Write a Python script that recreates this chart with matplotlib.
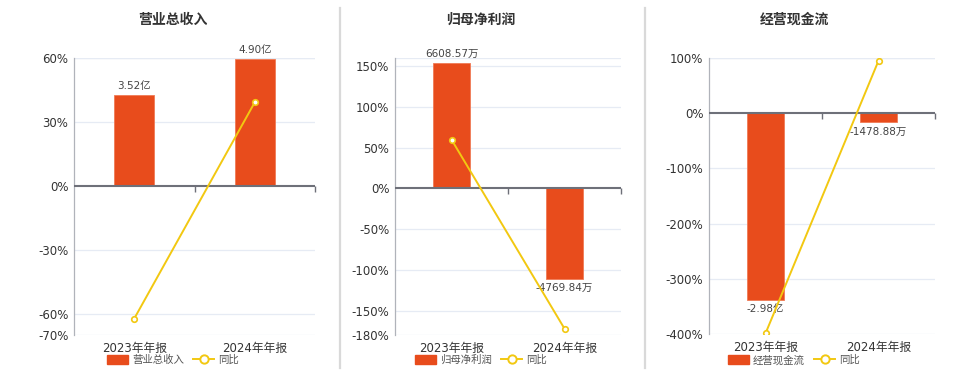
import matplotlib

matplotlib.use('Agg')
import matplotlib.pyplot as plt
import matplotlib.patches as mpatches
from matplotlib.lines import Line2D

plt.rcParams['font.family'] = ['DejaVu Sans', 'Noto Sans CJK SC']

BAR_COLOR = "#E84C1C"
LINE_COLOR = "#F2C811"
TEXT_COLOR = "#333333"
GRID_COLOR = "#E6EBF4"
ZERO_COLOR = "#6E7079"

categories = ["2023年年报", "2024年年报"]

# 营业总收入 (亿)
revenue = [3.52, 4.90]
revenue_labels = ["3.52亿", "4.90亿"]
revenue_yoy = [-62.3, 39.2]

# 归母净利润 (万)
profit = [6608.57, -4769.84]
profit_labels = ["6608.57万", "-4769.84万"]
profit_yoy = [59.8, -172.2]

# 经营现金流 (万)
cashflow = [-29800.0, -1478.88]
cashflow_labels = ["-2.98亿", "-1478.88万"]
cashflow_yoy = [-399.0, 95.0]

panels = [
    dict(title="营业总收入", name="营业总收入", bars=revenue, labels=revenue_labels, yoy=revenue_yoy,
         box=(74, 315, 58, 335), ylim=(-70, 60), ticks=[60, 30, 0, -30, -60, -70],
         pct_per_unit=12.14, center=173),
    dict(title="归母净利润", name="归母净利润", bars=profit, labels=profit_labels, yoy=profit_yoy,
         box=(395, 621, 58, 335), ylim=(-180, 160), ticks=[150, 100, 50, 0, -50, -100, -150, -180],
         pct_per_unit=0.02329, center=481),
    dict(title="经营现金流", name="经营现金流", bars=cashflow, labels=cashflow_labels, yoy=cashflow_yoy,
         box=(709, 935, 58, 334), ylim=(-400, 100), ticks=[100, 0, -100, -200, -300, -400],
         pct_per_unit=0.011376, center=794),
]

W, H = 960, 372
fig = plt.figure(figsize=(W / 100, H / 100), dpi=100)

# panel separators
for sx in (340, 645):
    fig.add_artist(Line2D([sx / W, sx / W], [4 / H, 364 / H], color="#D9D9D9", linewidth=1.6))


def draw_panel(p):
    left, right, top, bottom = p["box"]
    ax = fig.add_axes([left / W, 1 - bottom / H, (right - left) / W, (bottom - top) / H])
    axb = ax.twinx()
    ax.set_zorder(axb.get_zorder() + 1)
    ax.patch.set_visible(False)

    x = list(range(len(categories)))
    k = p["pct_per_unit"]
    lo, hi = p["ylim"]

    # bars on hidden secondary scale, grid drawn there too so it stays behind the bars
    axb.set_ylim(lo / k, hi / k)
    for t in p["ticks"] + [hi]:
        if t != 0:
            axb.axhline(t / k, color=GRID_COLOR, linewidth=0.9, zorder=0)
    axb.bar(x, p["bars"], width=0.33, color=BAR_COLOR, edgecolor="#F07A55", linewidth=0.6, zorder=2)
    for xi, v, lab in zip(x, p["bars"], p["labels"]):
        va = "bottom" if v >= 0 else "top"
        off = 3 if v >= 0 else -3
        axb.annotate(lab, (xi, v), xytext=(0, off), textcoords="offset points",
                     ha="center", va=va, fontsize=7.5, color="#444444", zorder=5)
    axb.axis("off")

    # yoy line on main axis
    ax.set_xlim(-0.5, len(categories) - 0.5)
    ax.set_ylim(lo, hi)
    ax.plot(x, p["yoy"], color=LINE_COLOR, linewidth=1.4, marker="o", markersize=4,
            markerfacecolor="white", markeredgecolor=LINE_COLOR, markeredgewidth=1.2, zorder=4)
    ax.axhline(0, color=ZERO_COLOR, linewidth=1.5, zorder=3)
    ax.plot([0.5, 1.5], [0, 0], linestyle="none", marker=3, markersize=4,
            color=ZERO_COLOR, markeredgewidth=1, zorder=3, clip_on=False)

    ax.set_yticks(p["ticks"])
    ax.set_yticklabels([f"{t}%" for t in p["ticks"]])
    ax.set_xticks(x)
    ax.set_xticklabels(categories)
    ax.tick_params(axis="y", length=0, pad=4, labelsize=8.5, labelcolor=TEXT_COLOR)
    ax.tick_params(axis="x", length=0, pad=5, labelsize=8.5, labelcolor=TEXT_COLOR)
    for side in ("top", "right", "bottom"):
        ax.spines[side].set_visible(False)
    ax.spines["left"].set_color("#B0B3BA")
    ax.spines["left"].set_linewidth(0.9)

    fig.text(p["center"] / W, 1 - 20 / H, p["title"], ha="center", va="center",
             fontsize=10, fontweight="bold", color="#333333")

    handles = [
        mpatches.FancyBboxPatch((0, 0), 1, 1, boxstyle="round,pad=0,rounding_size=0.3",
                                facecolor=BAR_COLOR, edgecolor=BAR_COLOR, label=p["name"]),
        Line2D([], [], color=LINE_COLOR, linewidth=1.4, marker="o", markersize=6,
               markerfacecolor="white", markeredgecolor=LINE_COLOR, markeredgewidth=1.4, label="同比"),
    ]
    fig.legend(handles=handles, loc="center", bbox_to_anchor=(p["center"] / W, 1 - 360 / H),
               ncol=2, frameon=False, fontsize=7.5, labelcolor="#555555", handlelength=2.0,
               handleheight=0.9, handletextpad=0.4, columnspacing=0.9, borderpad=0.1)


for p in panels:
    draw_panel(p)

fig.savefig("out.png", dpi=100)
plt.close(fig)
